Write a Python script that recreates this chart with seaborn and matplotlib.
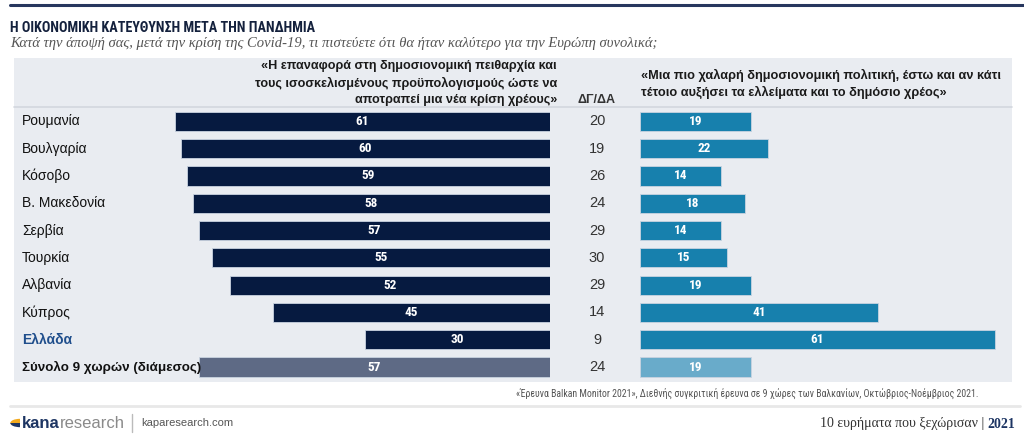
import matplotlib
matplotlib.use("Agg")
import matplotlib.pyplot as plt
import seaborn as sns
import pandas as pd
from matplotlib import font_manager as fm
from matplotlib.patches import Rectangle, Wedge
from matplotlib.lines import Line2D

# ---------------- data ----------------
countries = ["Ρουμανία", "Βουλγαρία", "Κόσοβο", "Β. Μακεδονία", "Σερβία",
             "Τουρκία", "Αλβανία", "Κύπρος", "Ελλάδα", "Σύνολο 9 χωρών (διάμεσος)"]
discipline = [61, 60, 59, 58, 57, 55, 52, 45, 30, 57]
dkna = [20, 19, 26, 24, 29, 30, 29, 14, 9, 24]
looser = [19, 22, 14, 18, 14, 15, 19, 41, 61, 19]

title = "Η ΟΙΚΟΝΟΜΙΚΗ ΚΑΤΕΥΘΥΝΣΗ ΜΕΤΑ ΤΗΝ ΠΑΝΔΗΜΙΑ"
subtitle = "Κατά την άποψή σας, μετά την κρίση της Covid-19, τι πιστεύετε ότι θα ήταν καλύτερο για την Ευρώπη συνολικά;"
left_header = ["«Η επαναφορά στη δημοσιονομική πειθαρχία και",
               "τους ισοσκελισμένους προϋπολογισμούς ώστε να",
               "αποτραπεί μια νέα κρίση χρέους»"]
mid_header = "ΔΓ/ΔΑ"
right_header = ["«Μια πιο χαλαρή δημοσιονομική πολιτική, έστω και αν κάτι",
                "τέτοιο αυξήσει τα ελλείματα και το δημόσιο χρέος»"]
source = "«Έρευνα Balkan Monitor 2021», Διεθνής συγκριτική έρευνα σε 9 χώρες των Βαλκανίων, Οκτώβριος-Νοέμβριος 2021."

df = pd.DataFrame({"country": countries, "discipline": discipline,
                   "dkna": dkna, "looser": looser})

# ---------------- style ----------------
sns.set_theme(style="white")
names = {f.name for f in fm.fontManager.ttflist}

def pick(*cands):
    for c in cands:
        if c in names:
            return c
    return "DejaVu Sans"

NARROW = pick("Liberation Sans Narrow", "Roboto Condensed", "Fira Sans Condensed",
              "Open Sans Condensed", "Liberation Sans")
SANS = pick("Liberation Sans", "Arimo", "DejaVu Sans")
SERIF = pick("Liberation Serif", "Tinos", "DejaVu Serif")
plt.rcParams["font.family"] = [SANS, "DejaVu Sans"]

W, H = 1024, 441
fig = plt.figure(figsize=(W / 100, H / 100), dpi=100)
fig.patch.set_facecolor("white")

def fx(x):
    return x / W

def fy(y):
    return 1 - y / H

NAVY = "#061a40"
TEAL = "#1780ad"
PANEL = "#e9ecf1"

# background panel + lines
fig.add_artist(Rectangle((fx(14), fy(382)), fx(1012) - fx(14), fy(58) - fy(382),
                         transform=fig.transFigure, facecolor=PANEL, edgecolor="none", zorder=0))
fig.add_artist(Line2D([fx(14), fx(1012)], [fy(107), fy(107)], transform=fig.transFigure,
                      color="#d3d7de", lw=1.2, zorder=1))
fig.add_artist(Line2D([fx(10), fx(1024)], [fy(5), fy(5)], transform=fig.transFigure,
                      color="#27375e", lw=2.2, zorder=1))
fig.add_artist(Line2D([fx(10), fx(1020)], [fy(406), fy(406)], transform=fig.transFigure,
                      color="#e8e8e8", lw=2, zorder=1))

# axes geometry
top_px, bot_px = 107.7, 380.7
axb = fy(bot_px)
axh = (bot_px - top_px) / H

left_colors = [NAVY] * (len(countries) - 1) + ["#5e6a85"]
right_colors = [TEAL] * (len(countries) - 1) + ["#69abca"]

axL = fig.add_axes([fx(150), axb, 400 / W, axh])
sns.barplot(data=df, x="discipline", y="country", hue="country", palette=left_colors,
            legend=False, orient="h", width=0.7, ax=axL, saturation=1)
axL.set_xlim(65, 0)

axR = fig.add_axes([fx(640), axb, 360 / W, axh])
sns.barplot(data=df, x="looser", y="country", hue="country", palette=right_colors,
            legend=False, orient="h", width=0.7, ax=axR, saturation=1)
axR.set_xlim(0, 61.9)

for ax, col in ((axL, "discipline"), (axR, "looser")):
    ax.set_ylim(len(countries) - 0.5, -0.5)
    ax.axis("off")
    ax.patch.set_alpha(0)
    for p in ax.patches:
        p.set_edgecolor("#c9d3e0")
        p.set_linewidth(0.6)
    for i, v in enumerate(df[col]):
        ax.text(v / 2, i, f"{v}", ha="center", va="center", color="white",
                fontsize=9.5, fontweight="bold", family=[NARROW, "DejaVu Sans"])

# country labels and DK/NA column
axM = fig.add_axes([0, axb, 1, axh])
axM.set_xlim(0, W)
axM.set_ylim(len(countries) - 0.5, -0.5)
axM.axis("off")
axM.patch.set_alpha(0)
for i, (c, d) in enumerate(zip(countries, dkna)):
    color, weight, size = "#111111", "normal", 10
    if c == "Ελλάδα":
        color, weight = "#1f4e8c", "bold"
    elif i == len(countries) - 1:
        weight, size = "bold", 9.6
    axM.text(22, i, c, ha="left", va="center", fontsize=size, color=color, fontweight=weight)
    axM.text(597, i, f"{d}", ha="center", va="center", fontsize=10.5, color="#333333")

# titles
fig.text(fx(10), fy(28), title, ha="left", va="center", fontsize=10.2, fontweight="bold",
         color="#14213d", family=[NARROW, "DejaVu Sans"])
fig.text(fx(10), fy(44), subtitle, ha="left", va="center", fontsize=10.5, style="italic",
         color="#555555", family=[SERIF, "DejaVu Serif"])

for k, line in enumerate(left_header):
    fig.text(fx(557), fy(66 + 17 * k), line, ha="right", va="center", fontsize=9.1,
             fontweight="bold", color="#1a1a1a")
fig.text(fx(597), fy(100), mid_header, ha="center", va="center", fontsize=9,
         fontweight="bold", color="#333333")
for k, line in enumerate(right_header):
    fig.text(fx(641), fy(75 + 17 * k), line, ha="left", va="center", fontsize=9.2,
             fontweight="bold", color="#1a1a1a")

fig.text(fx(978), fy(393), source, ha="right", va="center", fontsize=7.1, color="#555555",
         family=[NARROW, SANS])

# footer logo
fig.add_artist(Wedge((fx(20), fy(423)), 0.0095, 90, 180, transform=fig.transFigure,
                     facecolor="#f2a91d", edgecolor="none"))
fig.add_artist(Wedge((fx(20), fy(423)), 0.0095, 180, 270, transform=fig.transFigure,
                     facecolor="#1d3563", edgecolor="none"))
t1 = fig.text(fx(22), fy(423), "kana", ha="left", va="center", fontsize=12,
              fontweight="bold", color="#1d3563")
fig.canvas.draw()
r = fig.canvas.get_renderer()
bb = t1.get_window_extent(r)
fig.text(bb.x1 / W, fy(423), "research", ha="left", va="center", fontsize=12,
         color="#8a8a8a", fontweight="light")
fig.add_artist(Line2D([fx(132), fx(132)], [fy(414), fy(432)], transform=fig.transFigure,
                      color="#bbbbbb", lw=1))
fig.text(fx(141), fy(423), "kaparesearch.com", ha="left", va="center", fontsize=8,
         color="#555555")

t2 = fig.text(fx(1015), fy(424), "2021", ha="right", va="center", fontsize=10,
              color="#1d3563", family=[SERIF], fontweight="bold")
fig.canvas.draw()
bb2 = t2.get_window_extent(fig.canvas.get_renderer())
fig.text(bb2.x0 / W, fy(424), "10 ευρήματα που ξεχώρισαν | ", ha="right", va="center",
         fontsize=10, color="#333333", family=[SERIF])

fig.savefig("out.png", dpi=100, facecolor="white")
